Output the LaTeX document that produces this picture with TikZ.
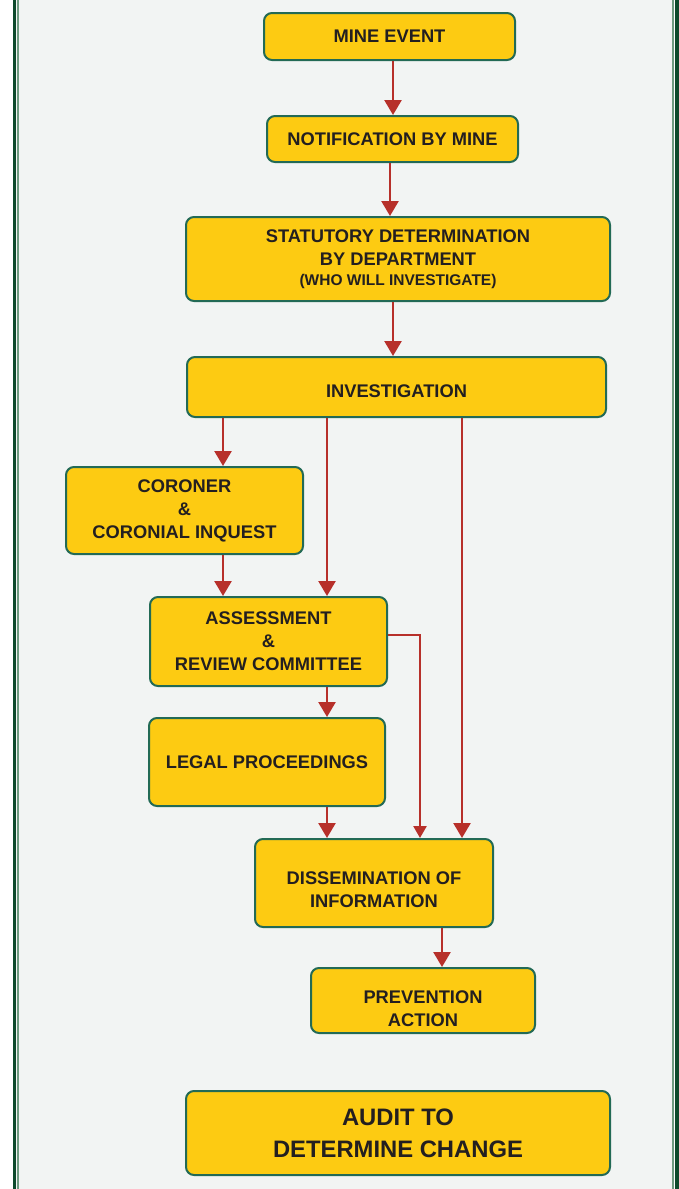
\documentclass[tikz,border=0pt]{standalone}
\usepackage{fontspec}
\setmainfont{Liberation Sans}
\usetikzlibrary{arrows.meta, positioning, calc}
\definecolor{boxyellow}{HTML}{FDCB12}
\definecolor{boxedge}{HTML}{236A55}
\definecolor{flowred}{HTML}{B7302A}
\definecolor{framedark}{HTML}{0D4A2B}
\definecolor{framelight}{HTML}{6F9B80}
\definecolor{panel}{HTML}{F2F4F3}
\definecolor{inktext}{HTML}{231F20}

\begin{document}
\begin{tikzpicture}[
        x=0.5pt, y=-0.5pt,
        stage/.style={rectangle, draw=boxedge, fill=boxyellow, line width=1pt, rounded corners=4pt, align=center, text=inktext, inner sep=2pt, font=\fontsize{9.15}{11.5}\selectfont\bfseries},
        flow/.style={-{Triangle[length=7.5pt, width=8.5pt]}, line width=1.25pt, draw=flowred},
        flowsmall/.style={-{Triangle[length=6pt, width=6.5pt]}, line width=1.25pt, draw=flowred}
    ]
        \useasboundingbox (0,0) rectangle (679,1189);

        % Panel and double frame lines
        \fill[panel] (15,0) rectangle (674,1189);
        \draw[framedark, line width=1.5pt] (14,0) -- (14,1189);
        \draw[framelight, line width=1pt] (17.7,0) -- (17.7,1189);
        \draw[framelight, line width=1pt] (673,0) -- (673,1189);
        \draw[framedark, line width=2pt] (676.5,0) -- (676.5,1189);

        % Stages, top to bottom
        \node [stage, minimum width=125.5pt, minimum height=23.5pt] (mine) at (389.5, 36.5) {MINE EVENT};
        \node [stage, minimum width=125.5pt, minimum height=23pt] (notif) at (392.5, 139) {NOTIFICATION BY MINE};
        \node [stage, minimum width=212pt, minimum height=42pt] (stat) at (398, 259) {STATUTORY DETERMINATION\\BY DEPARTMENT\\[-1.5pt]{\fontsize{7.75}{9}\selectfont (WHO WILL INVESTIGATE)}};
        \node [stage, minimum width=209.5pt, minimum height=30pt] (inv) at (396.5, 387) {\rule{0pt}{11pt}INVESTIGATION};
        \node [stage, minimum width=118.5pt, minimum height=43.5pt] (cor) at (184.5, 510.5) {CORONER\\\&\\CORONIAL INQUEST};
        \node [stage, minimum width=118.5pt, minimum height=44.5pt] (ass) at (268.5, 641.5) {ASSESSMENT\\\&\\REVIEW COMMITTEE};
        \node [stage, minimum width=118pt, minimum height=44pt] (legal) at (267, 762) {LEGAL PROCEEDINGS};
        \node [stage, minimum width=119pt, minimum height=44pt] (diss) at (374, 883) {\rule{0pt}{12.6pt}DISSEMINATION OF\\INFORMATION};
        \node [stage, minimum width=112pt, minimum height=32.5pt] (prev) at (423, 1000.5) {\rule{0pt}{14.6pt}PREVENTION\\ACTION};
        \node [stage, minimum width=212pt, minimum height=42pt, font=\fontsize{11.9}{16}\selectfont\bfseries] (audit) at (398, 1133) {AUDIT TO\\DETERMINE CHANGE};

        % Columns and rows the connectors run along
        \coordinate (c0) at (393, 0);
        \coordinate (c1) at (223, 0);
        \coordinate (c2) at (327, 0);
        \coordinate (c3) at (462, 0);
        \coordinate (c4) at (420, 0);
        \coordinate (c5) at (442, 0);
        \coordinate (r1) at (0, 635);

        % Connectors
        \draw [flow] (mine.south -| c0) -- (notif.north -| c0);
        \draw [flow] (notif.south -| 390,0) -- (stat.north -| 390,0);
        \draw [flow] (stat.south -| c0) -- (inv.north -| c0);
        \draw [flow] (inv.south -| c1) -- (cor.north -| c1);
        \draw [flow] (inv.south -| c2) -- (ass.north -| c2);
        \draw [flow] (inv.south -| c3) -- (diss.north -| c3);
        \draw [flow] (cor.south -| c1) -- (ass.north -| c1);
        \draw [flowsmall] (ass.east |- r1) -| (diss.north -| c4);
        \draw [flow] (ass.south -| c2) -- (legal.north -| c2);
        \draw [flow] (legal.south -| c2) -- (diss.north -| c2);
        \draw [flow] (diss.south -| c5) -- (prev.north -| c5);
    \end{tikzpicture}
\end{document}
